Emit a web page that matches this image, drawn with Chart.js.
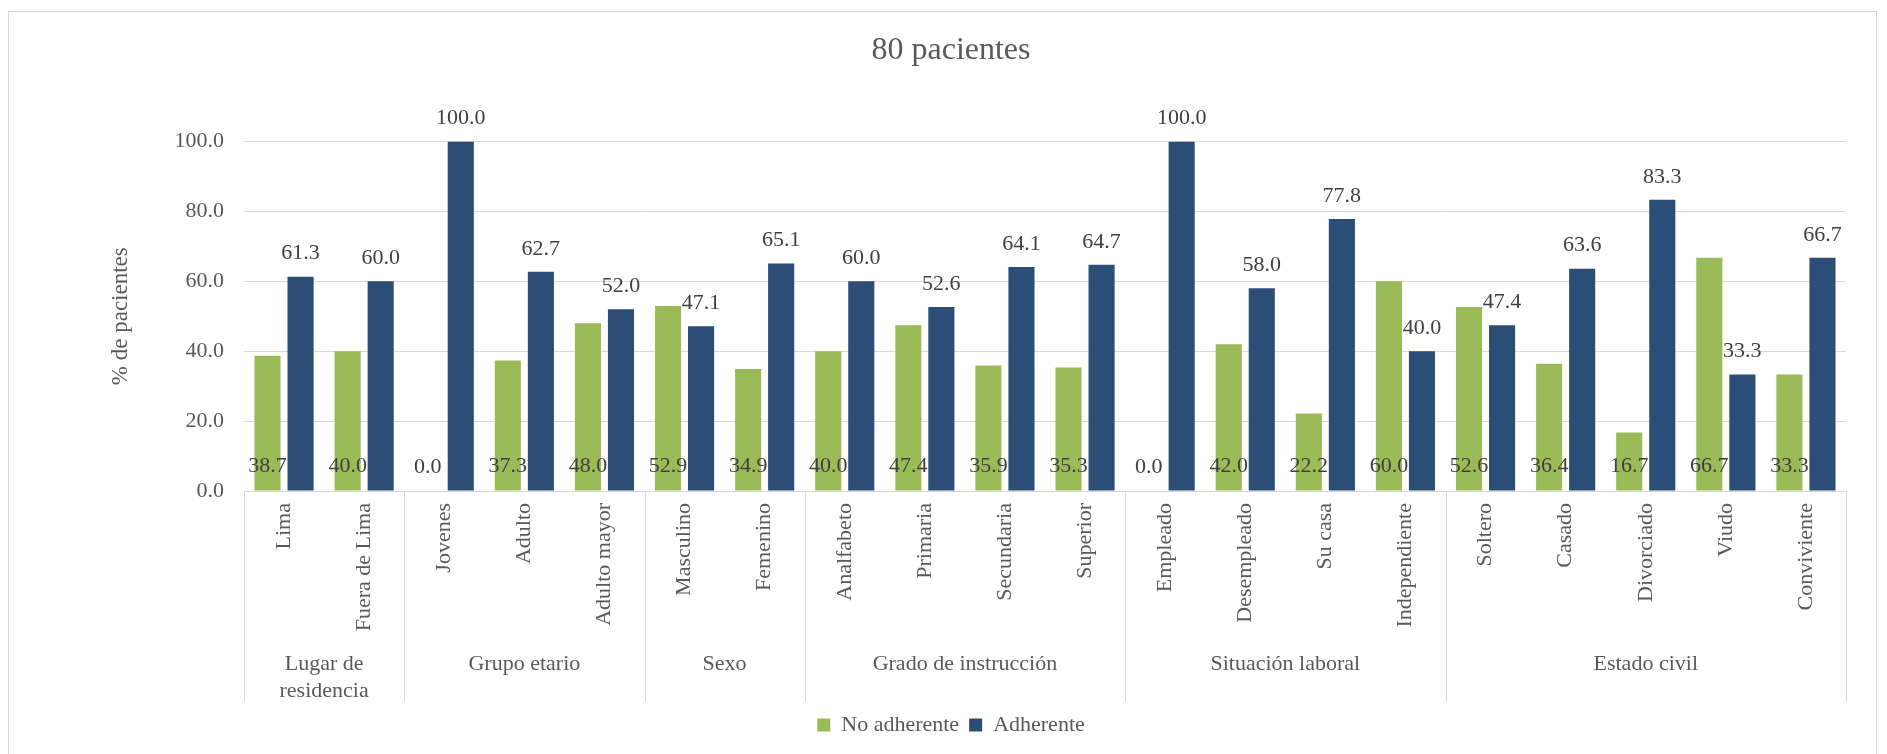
<!DOCTYPE html>
<html>
<head>
<meta charset="utf-8">
<script src="https://cdn.jsdelivr.net/npm/chart.js@4/dist/chart.umd.min.js"></script>
<style>
  html, body { margin: 0; padding: 0; background: #fff; }
  #wrap { position: relative; width: 1887px; height: 754px; overflow: hidden; }
  #frame { position: absolute; left: 8px; top: 11px; width: 1869px; height: 800px; border: 1px solid #d9d9d9; box-sizing: border-box; }
  canvas { position: absolute; left: 0; top: 0; }
</style>
</head>
<body>
<div id="wrap">
  <div id="frame"></div>
  <canvas id="chart" width="1887" height="754"></canvas>
</div>
<script>
const categories = ['Lima', 'Fuera de Lima', 'Jovenes', 'Adulto', 'Adulto mayor', 'Masculino', 'Femenino',
  'Analfabeto', 'Primaria', 'Secundaria', 'Superior', 'Empleado', 'Desempleado', 'Su casa', 'Independiente',
  'Soltero', 'Casado', 'Divorciado', 'Viudo', 'Conviviente'];
const groupNames = ['Lugar de residencia', 'Grupo etario', 'Sexo', 'Grado de instrucción', 'Situación laboral', 'Estado civil'];
const groupSizes = [2, 3, 2, 4, 4, 5];
const noAdherente = [38.7, 40.0, 0.0, 37.3, 48.0, 52.9, 34.9, 40.0, 47.4, 35.9, 35.3, 0.0, 42.0, 22.2, 60.0, 52.6, 36.4, 16.7, 66.7, 33.3];
const adherente = [61.3, 60.0, 100.0, 62.7, 52.0, 47.1, 65.1, 60.0, 52.6, 64.1, 64.7, 100.0, 58.0, 77.8, 40.0, 47.4, 63.6, 83.3, 33.3, 66.7];
const yTicks = [0, 20, 40, 60, 80, 100];

const FONT = '"Liberation Serif", "Times New Roman", serif';

// value labels: green ones sit at the bar base, blue ones above the bar
const valueLabels = {
  id: 'valueLabels',
  afterDatasetsDraw(chart) {
    const ctx = chart.ctx;
    ctx.save();
    ctx.font = '22px ' + FONT;
    ctx.fillStyle = '#404040';
    ctx.textAlign = 'center';
    ctx.textBaseline = 'middle';
    chart.data.datasets.forEach((ds, di) => {
      chart.getDatasetMeta(di).data.forEach((bar, i) => {
        const y = di === 0 ? bar.base - 24 : bar.y - 23;
        ctx.fillText(ds.data[i].toFixed(1), bar.x, y);
      });
    });
    ctx.restore();
  }
};

// two level category axis (rotated labels + group names + separators)
const groupAxis = {
  id: 'groupAxis',
  afterDraw(chart) {
    const ctx = chart.ctx;
    const x = chart.scales.x;
    const top = x.top;
    const bottom = x.bottom - 2;
    ctx.save();
    ctx.font = '22px ' + FONT;
    ctx.fillStyle = '#595959';

    categories.forEach((c, i) => {
      const px = x.getPixelForValue(i);
      ctx.save();
      ctx.translate(px, top + 12);
      ctx.rotate(-Math.PI / 2);
      ctx.textAlign = 'right';
      ctx.textBaseline = 'middle';
      ctx.fillText(c, 0, 0);
      ctx.restore();
    });

    ctx.strokeStyle = '#d9d9d9';
    ctx.lineWidth = 1;
    let start = 0;
    const edges = [x.left];
    groupSizes.forEach((n, g) => {
      const end = start + n - 1;
      const l = start === 0 ? x.left : (x.getPixelForValue(start - 1) + x.getPixelForValue(start)) / 2;
      const r = end === categories.length - 1 ? x.right : (x.getPixelForValue(end) + x.getPixelForValue(end + 1)) / 2;
      edges.push(r);
      // word wrap group name
      const words = groupNames[g].split(' ');
      const lines = [];
      let line = '';
      words.forEach(w => {
        const test = line ? line + ' ' + w : w;
        if (ctx.measureText(test).width > r - l - 12 && line) {
          lines.push(line);
          line = w;
        } else {
          line = test;
        }
      });
      lines.push(line);
      ctx.textAlign = 'center';
      ctx.textBaseline = 'middle';
      lines.forEach((t, k) => ctx.fillText(t, (l + r) / 2, top + 173 + k * 27));
      start += n;
    });
    edges.forEach(e => {
      ctx.beginPath();
      ctx.moveTo(Math.round(e) + 0.5, top);
      ctx.lineTo(Math.round(e) + 0.5, bottom);
      ctx.stroke();
    });
    ctx.restore();
  }
};

new Chart(document.getElementById('chart'), {
  type: 'bar',
  data: {
    labels: categories,
    datasets: [
      {
        label: 'No adherente',
        data: noAdherente,
        backgroundColor: '#9bbb59',
        categoryPercentage: 0.825,
        barPercentage: 0.79,
      },
      {
        label: 'Adherente',
        data: adherente,
        backgroundColor: '#2c4d75',
        categoryPercentage: 0.825,
        barPercentage: 0.79,
      },
    ],
  },
  options: {
    responsive: false,
    animation: false,
    layout: {
      padding: { left: 56, right: 41, top: 11, bottom: 8 },
    },
    plugins: {
      title: {
        display: true,
        text: '80 pacientes',
        color: '#595959',
        font: { family: FONT, size: 32, weight: 'normal' },
        padding: { top: 20, bottom: 72 },
      },
      legend: {
        position: 'bottom',
        labels: {
          color: '#595959',
          font: { family: FONT, size: 22 },
          boxWidth: 13,
          boxHeight: 13,
          padding: 10,
        },
      },
      tooltip: { enabled: false },
    },
    scales: {
      x: {
        grid: { display: false },
        border: { color: '#d9d9d9' },
        ticks: { display: false },
        afterFit(scale) { scale.height = 213; },
      },
      y: {
        min: 0,
        max: 100,
        afterBuildTicks(scale) { scale.ticks = yTicks.map(v => ({ value: v })); },
        afterFit(scale) { scale.width = 188; },
        grid: { color: '#d9d9d9', drawTicks: false },
        border: { display: false },
        ticks: {
          color: '#595959',
          padding: 20,
          font: { family: FONT, size: 22 },
          callback: v => v.toFixed(1),
        },
        title: {
          display: true,
          text: '% de pacientes',
          color: '#595959',
          font: { family: FONT, size: 23 },
          padding: { top: 51, bottom: 0 },
        },
      },
    },
  },
  plugins: [valueLabels, groupAxis],
});
</script>
</body>
</html>
